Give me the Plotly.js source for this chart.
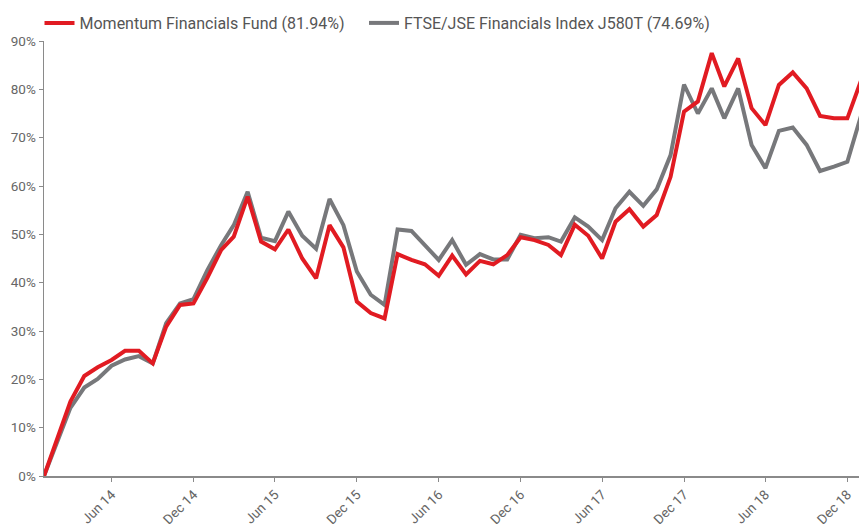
<!DOCTYPE html>
<html><head><meta charset="utf-8">
<script src="https://cdn.plot.ly/plotly-3.0.1.min.js"></script>
<style>html,body{margin:0;padding:0;background:#fff}#chart{width:859px;height:524px}</style>
</head><body><div id="chart"></div>
<script>
// Month starts, Jan 2014 .. Jan 2019
const months = [];
for (let y = 2014; y <= 2019; y++) {
  for (let m = 1; m <= 12; m++) {
    if (y === 2019 && m > 1) break;
    months.push(y + '-' + String(m).padStart(2, '0') + '-01');
  }
}
const fundName = 'Momentum Financials Fund (81.94%)';
const indexName = 'FTSE/JSE Financials Index J580T (74.69%)';
const fund = [0, 8.3, 15.4, 20.7, 22.5, 24.0, 25.9, 25.9, 23.3, 30.9, 35.4, 35.7,
  41.0, 46.8, 49.5, 57.8, 48.5, 46.9, 51.0, 45.0, 40.9, 51.9, 47.3, 36.1,
  33.7, 32.6, 45.9, 44.7, 43.8, 41.4, 45.6, 41.7, 44.5, 43.8, 45.7, 49.4,
  48.8, 47.8, 45.7, 52.0, 49.7, 45.0, 52.6, 55.2, 51.6, 54.0, 61.9, 75.4,
  77.5, 87.5, 80.6, 86.4, 76.1, 72.6, 80.9, 83.5, 80.2, 74.5, 74.0, 74.0, 81.94];
const index = [0, 7.5, 14.1, 18.3, 20.1, 22.8, 24.1, 24.8, 23.3, 31.6, 35.7, 36.6,
  42.6, 47.8, 51.9, 58.8, 49.3, 48.6, 54.7, 49.7, 47.0, 57.3, 51.9, 42.3,
  37.5, 35.4, 51.0, 50.7, 47.8, 44.7, 48.8, 43.7, 45.9, 44.8, 44.8, 49.9,
  49.2, 49.4, 48.5, 53.5, 51.6, 48.8, 55.4, 58.8, 55.9, 59.3, 66.4, 81.0,
  75.0, 80.2, 74.0, 80.2, 68.5, 63.7, 71.4, 72.1, 68.5, 63.1, 64.0, 65.0, 74.69];
const tickDates = ['2014-06-01','2014-12-01','2015-06-01','2015-12-01','2016-06-01',
  '2016-12-01','2017-06-01','2017-12-01','2018-06-01','2018-12-01'];
const tickLabels = ['Jun 14','Dec 14','Jun 15','Dec 15','Jun 16',
  'Dec 16','Jun 17','Dec 17','Jun 18','Dec 18'];

const RED = '#e11b22', GREY = '#77787b';
const traces = [
  {x: months, y: index, name: indexName, type: 'scatter', mode: 'lines',
   line: {color: GREY, width: 4}, legend: 'legend2'},
  {x: months, y: fund, name: fundName, type: 'scatter', mode: 'lines',
   line: {color: RED, width: 4}, legend: 'legend'}
];
const axisCol = '#8a8a8a';
const legBase = {orientation: 'h', xref: 'container', xanchor: 'left',
  yref: 'container', y: 1 - 23/524, yanchor: 'middle',
  font: {size: 16, color: '#555'}, itemwidth: 30, bgcolor: 'rgba(0,0,0,0)'};
const layout = {
  width: 859, height: 524,
  margin: {l: 44, r: 0, t: 41, b: 48, pad: 0},
  paper_bgcolor: '#fff', plot_bgcolor: '#fff',
  font: {family: 'Roboto, sans-serif', color: '#5a5a5a'},
  showlegend: true,
  legend: Object.assign({}, legBase, {x: 39.5/859}),
  legend2: Object.assign({}, legBase, {x: 364/859}),
  xaxis: {type: 'date', range: ['2014-01-01', '2018-12-27'],
    showline: true, linecolor: axisCol, linewidth: 1.5, mirror: false,
    ticks: 'outside', ticklen: 4, tickcolor: axisCol, tickwidth: 1,
    tickvals: tickDates, ticktext: tickLabels, tickangle: -45,
    tickfont: {size: 13.5, color: '#666'}, showgrid: false, zeroline: false},
  yaxis: {range: [0, 90], dtick: 10, tick0: 0, ticksuffix: '%',
    showline: true, linecolor: axisCol, linewidth: 1.5,
    ticks: 'outside', ticklen: 4, tickcolor: axisCol, tickwidth: 1,
    tickfont: {size: 13.5, color: '#666'}, showgrid: false, zeroline: false}
};
Plotly.newPlot('chart', traces, layout, {displayModeBar: false, staticPlot: true});
</script>
</body></html>
